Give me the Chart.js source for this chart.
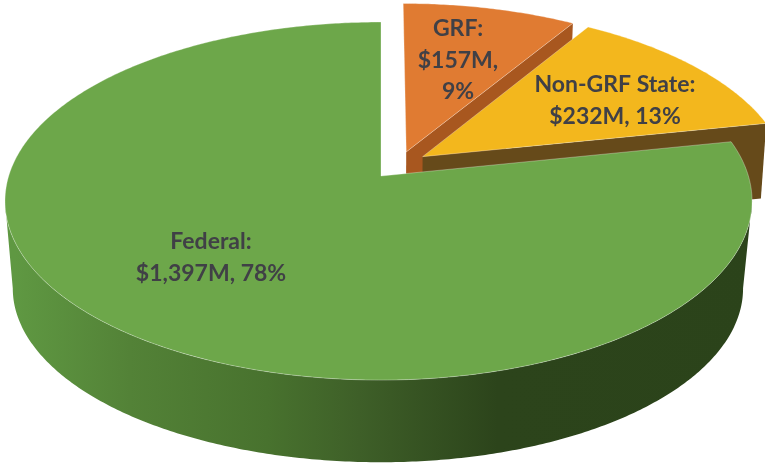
<!DOCTYPE html>
<html lang="en">
<head>
  <meta charset="UTF-8">
  <title>Funding sources</title>
  <style>
    body { margin: 0; padding: 0; background: #fff; }
    canvas { display: block; filter: blur(0.4px); }
  </style>
</head>
<body>
  <canvas id="pie" width="765" height="464"></canvas>

  <script src="https://cdn.jsdelivr.net/npm/chart.js"></script>
  <script>
    // Data ($M and rounded share)
    const categories = ['GRF', 'Non-GRF State', 'Federal'];
    const amounts = [157, 232, 1397];
    const shares = [9, 13, 78];

    const topColors = ['#E07B32', '#F3B71D', '#6DA74A'];
    const wallColors = ['#A8571F', '#664A1A', null];

    // Tilted disc: perspective projection of the unit circle
    const apexX = 381, apexY = 176, tilt = 0.14;
    const topDisc = { y: apexY, left: 372.3, right: 367.4, b: 175.5 };
    const baseDisc = { y: apexY + 88, left: 364.6, right: 358.5, b: 170.5 };
    const explode = [{ u: 0.07, v: -0.14 }, { u: 0.115, v: -0.112 }, { u: 0, v: 0 }];
    const wallHeight = 75;

    function project(disc, u, v) {
      const w = 1 - tilt * v;
      const a = u < 0 ? disc.left : disc.right;
      return { x: apexX + a * u / w, y: disc.y + disc.b * v / w };
    }

    function rimPoints(disc, start, end, shift) {
      const pts = [];
      const steps = Math.max(2, Math.ceil(Math.abs(end - start) / 0.01));
      for (let i = 0; i <= steps; i++) {
        const a = start + (end - start) * i / steps;
        pts.push(project(disc, Math.cos(a) + shift.u, Math.sin(a) + shift.v));
      }
      return pts;
    }

    function tracePath(ctx, pts) {
      ctx.beginPath();
      pts.forEach((p, i) => (i ? ctx.lineTo(p.x, p.y) : ctx.moveTo(p.x, p.y)));
      ctx.closePath();
    }

    const noShift = { u: 0, v: 0 };

    // Federal's outer wall, shaded left to right
    function drawBody(ctx) {
      const edge = Math.asin(tilt);
      const pts = rimPoints(topDisc, edge, Math.PI - edge, noShift)
        .concat(rimPoints(baseDisc, Math.PI - edge, edge, noShift));
      const grad = ctx.createLinearGradient(0, 0, 765, 0);
      grad.addColorStop(0.02, '#5F9842');
      grad.addColorStop(0.17, '#538237');
      grad.addColorStop(0.35, '#48722E');
      grad.addColorStop(0.47, '#3E5F28');
      grad.addColorStop(0.65, '#2C441B');
      grad.addColorStop(1, '#2B431A');
      tracePath(ctx, pts);
      ctx.fillStyle = grad;
      ctx.fill();
    }

    // Cut face on the clockwise end of an exploded slice
    function drawCutWall(ctx, arc, i) {
      const shift = explode[i];
      const apex = project(topDisc, shift.u, shift.v);
      const corner = project(topDisc, Math.cos(arc.endAngle) + shift.u, Math.sin(arc.endAngle) + shift.v);
      const sink = p => ({ x: p.x - (p.x - apexX) * 0.014, y: p.y + wallHeight });
      tracePath(ctx, [apex, corner, sink(corner), sink(apex)]);
      ctx.fillStyle = wallColors[i];
      ctx.fill();
    }

    function drawTop(ctx, arc, i) {
      const shift = explode[i];
      const pts = [project(topDisc, shift.u, shift.v)]
        .concat(rimPoints(topDisc, arc.startAngle, arc.endAngle, shift));
      tracePath(ctx, pts);
      ctx.fillStyle = topColors[i];
      ctx.fill();
      ctx.strokeStyle = 'rgba(255,255,255,0.3)';
      ctx.lineWidth = 1;
      ctx.stroke();
    }

    const money = v => '$' + v.toLocaleString('en-US') + 'M';
    const labelLines = [
      [categories[0] + ':', money(amounts[0]) + ',', shares[0] + '%'],
      [categories[1] + ':', money(amounts[1]) + ', ' + shares[1] + '%'],
      [categories[2] + ':', money(amounts[2]) + ', ' + shares[2] + '%']
    ];
    const labelSpots = [
      { x: 458, y: 29, gap: 31.5 },
      { x: 615, y: 85, gap: 32 },
      { x: 211, y: 242, gap: 32 }
    ];

    const pie3d = {
      id: 'pie3d',
      beforeDatasetDraw(chart, args) {
        const ctx = chart.ctx;
        const arcs = chart.getDatasetMeta(args.index).data;
        ctx.save();
        [0, 1].forEach(i => {
          drawCutWall(ctx, arcs[i], i);
          drawTop(ctx, arcs[i], i);
        });
        drawBody(ctx);
        drawTop(ctx, arcs[2], 2);

        ctx.fillStyle = '#404046';
        ctx.font = 'bold 23px Lato, sans-serif';
        ctx.textAlign = 'center';
        ctx.textBaseline = 'middle';
        labelLines.forEach((lines, i) => {
          lines.forEach((line, k) => {
            ctx.fillText(line, labelSpots[i].x, labelSpots[i].y + k * labelSpots[i].gap);
          });
        });
        ctx.restore();
        return false;
      }
    };

    new Chart(document.getElementById('pie'), {
      type: 'pie',
      data: {
        labels: categories,
        datasets: [{ data: amounts, backgroundColor: topColors, borderWidth: 0 }]
      },
      options: {
        responsive: false,
        animation: false,
        rotation: 0,
        layout: { padding: 0 },
        plugins: { legend: { display: false }, tooltip: { enabled: false } }
      },
      plugins: [pie3d]
    });
  </script>
</body>
</html>
